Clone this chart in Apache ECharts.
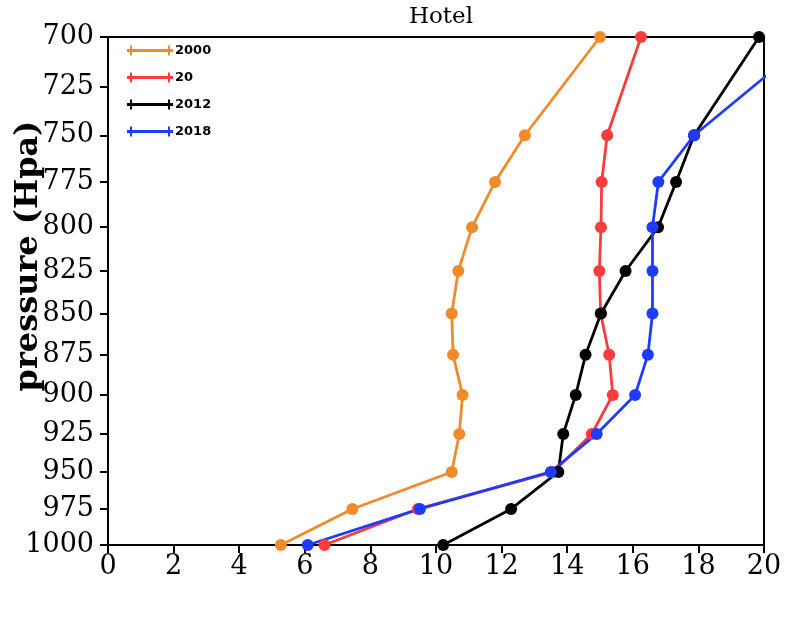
<!DOCTYPE html>
<html>
<head>
<meta charset="utf-8">
<script src="https://cdn.jsdelivr.net/npm/echarts@6/dist/echarts.min.js"></script>
<style>html,body{margin:0;padding:0;background:#fff}#c{width:800px;height:618px}</style>
</head>
<body>
<div id="c"></div>
<script>
const pressures = [700, 750, 775, 800, 825, 850, 875, 900, 925, 950, 975, 1000];
const seriesNames = ['2000', '20', '2012', '2018'];
const s2000 = [15.0, 12.71, 11.8, 11.1, 10.68, 10.48, 10.52, 10.81, 10.71, 10.48, 7.45, 5.27];
const s20   = [16.25, 15.22, 15.05, 15.03, 14.98, 15.02, 15.28, 15.39, 14.75, 13.57, 9.45, 6.6];
const s2012 = [19.85, 17.87, 17.32, 16.77, 15.78, 15.03, 14.56, 14.26, 13.88, 13.73, 12.29, 10.22];
const s2018 = [21.5, 17.87, 16.78, 16.6, 16.6, 16.6, 16.46, 16.07, 14.9, 13.5, 9.51, 6.09];
const yTicks = [700, 725, 750, 775, 800, 825, 850, 875, 900, 925, 950, 975, 1000];
const colors = ['#F08A2B', '#FA3C3C', '#000000', '#1E3CFF'];
const values = [s2000, s20, s2012, s2018];

const serifFont = 'DejaVu Serif';
const legendIcon = 'path://M0,3.5 L3,3.5 L3,0 L5,0 L5,3.5 L41,3.5 L41,0 L43,0 L43,3.5 L46,3.5 L46,6.5 L43,6.5 L43,10 L41,10 L41,6.5 L5,6.5 L5,10 L3,10 L3,6.5 L0,6.5 Z';

const chart = echarts.init(document.getElementById('c'));
chart.setOption({
  backgroundColor: '#fff',
  animation: false,
  title: {
    text: 'Hotel', left: 436, top: 1, textAlign: 'center',
    textStyle: {fontFamily: serifFont, fontWeight: 'normal', fontSize: 23, color: '#000'}
  },
  legend: {
    orient: 'vertical', left: 122, top: 39, itemGap: 14,
    itemWidth: 46, itemHeight: 10,
    data: seriesNames.map(n => ({name: n, icon: legendIcon})),
    textStyle: {fontFamily: 'DejaVu Sans', fontWeight: 'bold', fontSize: 13, color: '#000', padding: [0, 0, 0, -3]}
  },
  graphic: [{
    type: 'text', x: 29, y: 256, rotation: Math.PI / 2,
    style: {text: 'pressure (Hpa)', fontFamily: serifFont, fontWeight: 'bold', fontSize: 32, fill: '#000',
      textAlign: 'center', textVerticalAlign: 'middle'}
  }],
  grid: {left: 108, right: 36, top: 37, bottom: 73, show: true, borderColor: '#000', borderWidth: 2,
    containLabel: false, outerBoundsMode: 'none'},
  xAxis: {
    type: 'value', min: 0, max: 20, interval: 2,
    axisLine: {lineStyle: {color: '#000', width: 2}},
    axisTick: {length: 8, inside: false, lineStyle: {color: '#000', width: 2}},
    axisLabel: {fontFamily: serifFont, fontSize: 27, color: '#000', margin: 8},
    splitLine: {show: false}
  },
  yAxis: {
    type: 'value', inverse: true,
    min: Math.log(700), max: Math.log(1000),
    axisLine: {lineStyle: {color: '#000', width: 2}},
    axisTick: {length: 8, inside: false, lineStyle: {color: '#000', width: 2}, customValues: yTicks.map(p => Math.log(p))},
    axisLabel: {fontFamily: serifFont, fontSize: 27, color: '#000', margin: 14,
      customValues: yTicks.map(p => Math.log(p)),
      formatter: v => String(Math.round(Math.exp(v)))},
    splitLine: {show: false}
  },
  series: seriesNames.map((n, i) => ({
    name: n, type: 'line', clip: true,
    color: colors[i],
    symbol: 'circle', symbolSize: 12,
    lineStyle: {width: 2.8, color: colors[i]},
    itemStyle: {color: colors[i]},
    data: values[i].map((x, j) => [x, Math.log(pressures[j])])
  }))
});
</script>
</body>
</html>
